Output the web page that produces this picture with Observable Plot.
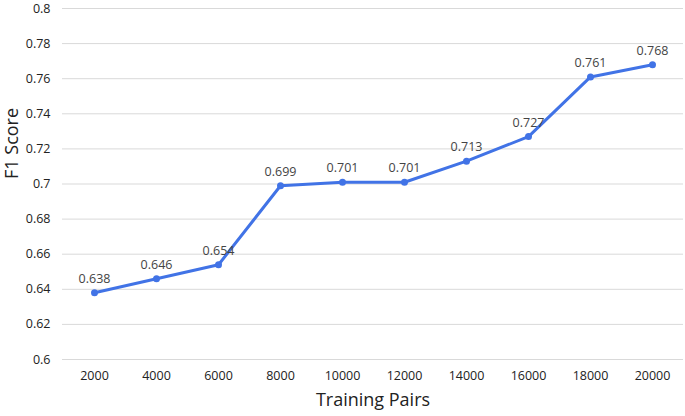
<!DOCTYPE html>
<html><head><meta charset="utf-8">
<script src="https://cdn.jsdelivr.net/npm/d3@7"></script>
<script src="https://cdn.jsdelivr.net/npm/@observablehq/plot@0.6"></script>
<style>body{margin:0;background:#fff;font-family:"Open Sans",sans-serif;}</style>
</head><body><div id="chart"></div>
<script>
const pairs = ["2000","4000","6000","8000","10000","12000","14000","16000","18000","20000"];
const f1 = [0.638,0.646,0.654,0.699,0.701,0.701,0.713,0.727,0.761,0.768];
const yTicks = [0.6,0.62,0.64,0.66,0.68,0.7,0.72,0.74,0.76,0.78,0.8];
const data = pairs.map((p,i)=>({p, v:f1[i]}));
const color = "#4173e6";
const plot = Plot.plot({
  width: 685, height: 416,
  marginLeft: 62, marginRight: 2, marginTop: 8, marginBottom: 57,
  style: {fontFamily: "'Open Sans', sans-serif", fontSize: "12px", color: "#222"},
  x: {type: "point", domain: pairs, padding: 0.5, label: null},
  y: {domain: [0.6, 0.8], label: null},
  marks: [
    Plot.gridY(yTicks, {stroke: "#d9d9d9", strokeOpacity: 1, strokeWidth: 1}),
    Plot.axisY(yTicks, {tickSize: 0, tickPadding: 12, tickFormat: d => String(+d.toFixed(2)), fontSize: 12.5}),
    Plot.axisX({tickSize: 0, tickPadding: 12, fontSize: 12.5}),
    Plot.lineY(data, {x: "p", y: "v", stroke: color, strokeWidth: 3}),
    Plot.dot(data, {x: "p", y: "v", fill: color, r: 3.5}),
    Plot.text(data, {x: "p", y: "v", text: d => d.v.toFixed(3), dy: -14, fill: "#444", fontSize: 12.5}),
    Plot.text(["Training Pairs"], {frameAnchor: "bottom", dy: 46, fontSize: 18, fill: "#222"}),
    Plot.text(["F1 Score"], {frameAnchor: "left", dx: -50, dy: -5, rotate: -90, fontSize: 18, fill: "#222"})
  ]
});
document.getElementById("chart").append(plot);
</script></body></html>
